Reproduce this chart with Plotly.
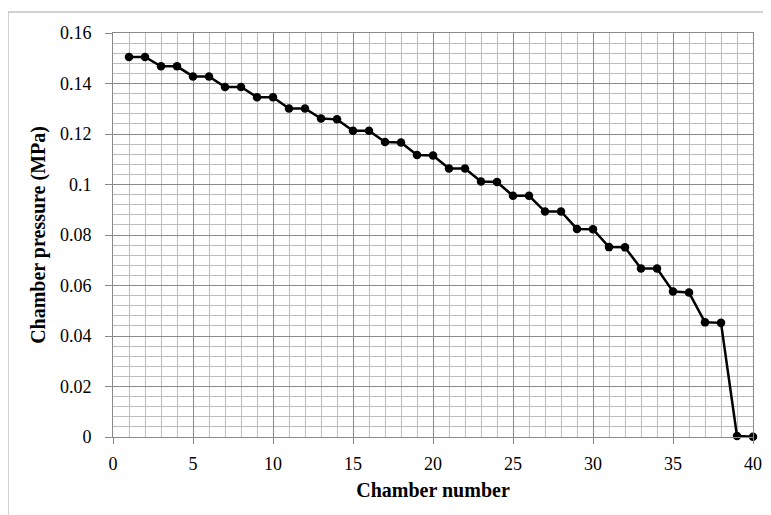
import plotly.graph_objects as go

chamber = list(range(1, 41))
pressure = [0.1505, 0.1505, 0.1468, 0.1468, 0.1428, 0.1428, 0.1386, 0.1386, 0.1346, 0.1346,
            0.1301, 0.1301, 0.1261, 0.1258, 0.1213, 0.1213, 0.1168, 0.1166, 0.1117, 0.1115,
            0.1063, 0.1063, 0.1012, 0.1010, 0.0955, 0.0955, 0.0893, 0.0893, 0.0824, 0.0823,
            0.0752, 0.0751, 0.0667, 0.0667, 0.0576, 0.0572, 0.0454, 0.0452, 0.0004, 0.0001]

x_ticks = [0, 5, 10, 15, 20, 25, 30, 35, 40]
y_ticks = [0, 0.02, 0.04, 0.06, 0.08, 0.1, 0.12, 0.14, 0.16]
y_tick_text = ["0", "0.02", "0.04", "0.06", "0.08", "0.1", "0.12", "0.14", "0.16"]

FONT = "Liberation Serif"
MAJOR = "#8a8a8a"
MINOR = "#bdbdbd"

fig = go.Figure()
fig.add_trace(go.Scatter(
    x=chamber, y=pressure, mode="lines+markers",
    line=dict(color="black", width=2.5),
    marker=dict(color="black", size=8.5),
    cliponaxis=False,
    showlegend=False,
))

fig.update_xaxes(
    range=[0, 40], tickvals=x_ticks, ticktext=[str(v) for v in x_ticks],
    showgrid=True, gridcolor=MAJOR, gridwidth=1,
    minor=dict(dtick=1, tick0=0, showgrid=True, gridcolor=MINOR, gridwidth=1.3, ticks=""),
    showline=True, linecolor=MAJOR, linewidth=1, mirror=True,
    ticks="outside", ticklen=6, tickcolor=MAJOR, zeroline=False,
    tickfont=dict(family=FONT, size=18, color="black"),
    ticklabelstandoff=4,
    title=dict(text="<b>Chamber number</b>", font=dict(family=FONT, size=20, color="black"), standoff=10),
    automargin=False,
)
fig.update_yaxes(
    range=[0, 0.16], tickvals=y_ticks, ticktext=y_tick_text,
    showgrid=True, gridcolor=MAJOR, gridwidth=1,
    minor=dict(dtick=0.004, tick0=0, showgrid=True, gridcolor=MINOR, gridwidth=1.3, ticks=""),
    showline=True, linecolor=MAJOR, linewidth=1, mirror=True,
    ticks="outside", ticklen=7, tickcolor=MAJOR, zeroline=False,
    tickfont=dict(family=FONT, size=18, color="black"),
    ticklabelstandoff=10,
    title=dict(text="<b>Chamber pressure (MPa)</b>", font=dict(family=FONT, size=20, color="black"), standoff=8),
    automargin=False,
)

fig.update_layout(
    width=763, height=507,
    margin=dict(l=105, r=18, t=25, b=78),
    paper_bgcolor="white", plot_bgcolor="white",
    shapes=[dict(type="rect", xref="paper", yref="paper",
                 x0=(0 - 105) / 640, x1=(780 - 105) / 640,
                 y0=(429 - 530) / 404, y1=(429 - 4) / 404,
                 line=dict(color="#a6a6a6", width=1), fillcolor="rgba(0,0,0,0)",
                 layer="below")],
)

fig.write_html("out.html")
